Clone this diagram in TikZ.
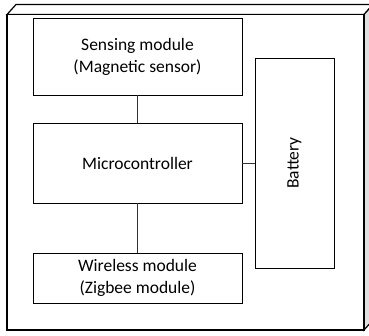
\documentclass[tikz,border=0pt]{standalone}
\usepackage{fontspec}
\setmainfont{Carlito}
\usetikzlibrary{calc}
\begin{document}
\begin{tikzpicture}[x=1pt,y=-1pt,
  part/.style={draw=black, line width=0.9pt, fill=white, inner sep=0pt, align=center,
    font=\fontsize{17.5}{22}\selectfont},
  wire/.style={draw=black!80, line width=0.9pt},
  frame/.style={draw=black, line width=1.2pt}]
\useasboundingbox (0,0) rectangle (369,335);
\clip (0,0) rectangle (369,335);
% device enclosure drawn as a box with depth
\coordinate (fa) at (7,14.5);
\coordinate (fb) at (364,14.5);
\coordinate (fc) at (364,330);
\coordinate (fd) at (7,330);
\filldraw[frame, fill=white] (fa) -- ++(9,-10) -- ($(fb)+(9,-10)$) -- (fb) -- cycle;
\filldraw[frame, fill=black!12] (fb) -- ++(9,-10) -- ($(fc)+(9,-10)$) -- (fc) -- cycle;
\filldraw[frame, fill=white] (fa) rectangle (fc);
% components
\node[part, minimum width=209pt, minimum height=77pt] (sense) at (137.5,56.5)
  {Sensing module\\(Magnetic sensor)};
\node[part, minimum width=209pt, minimum height=80pt] (mcu) at (137.5,163) {Microcontroller};
\node[part, minimum width=209pt, minimum height=50pt] (radio) at (137.5,278)
  {Wireless module\\(Zigbee module)};
\node[part, minimum width=79pt, minimum height=210pt] (batt) at (294.5,163) {};
\node[font=\fontsize{17.5}{22}\selectfont, rotate=90, inner sep=0pt] (battlabel) at (batt.center) {Battery};
% links
\draw[wire] (sense.south) -- (mcu.north);
\draw[wire] (mcu.south) -- (radio.north);
\draw[wire] (mcu.east) -- (batt.west);
\end{tikzpicture}
\end{document}
